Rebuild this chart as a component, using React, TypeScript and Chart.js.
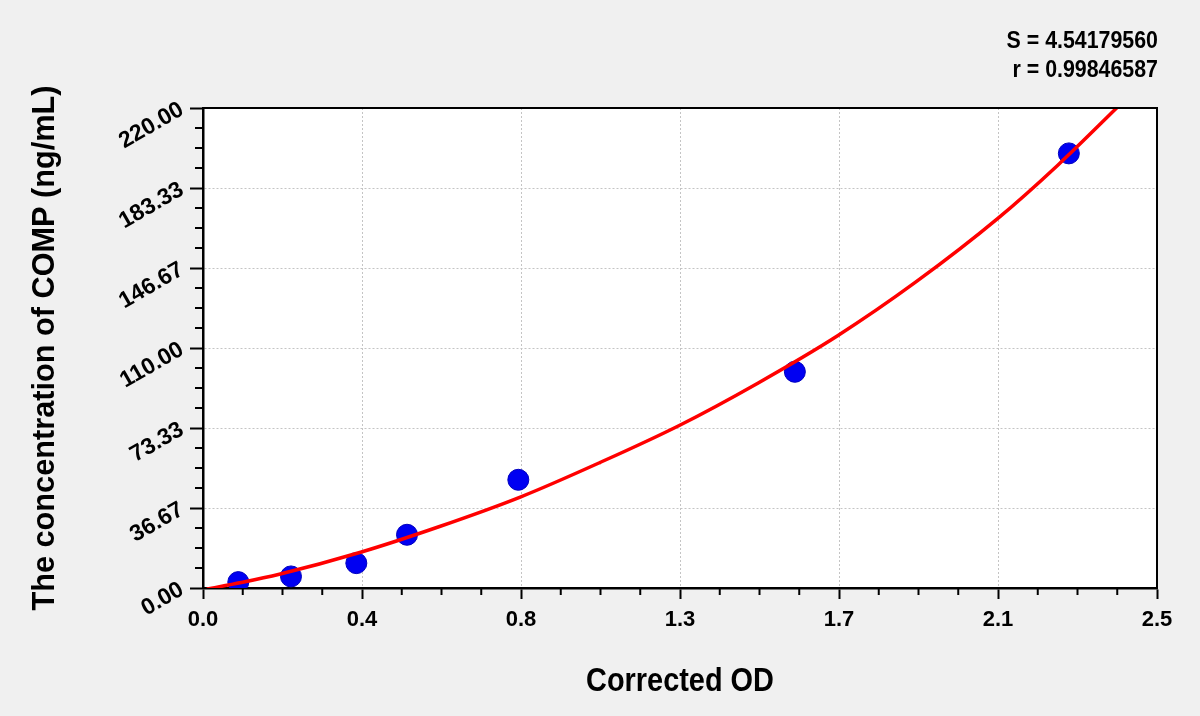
import { useEffect, useRef } from "react";
import { Chart, registerables } from "chart.js";

Chart.register(...registerables);

// fitted curve (OD -> ng/mL)
const curveOD = [0.01, 0.1, 0.2, 0.413, 0.62, 0.833, 1.04, 1.248, 1.455, 1.662, 1.87, 2.083, 2.24, 2.4];
const curveConc = [-0.5, 2.5, 6.3, 16.4, 28.2, 41.8, 57.5, 74.5, 94, 115.5, 140.5, 169.4, 193.8, 221];

// standards
const standardOD = [0.0925, 0.2306, 0.4018, 0.5346, 0.8263, 1.551, 2.269];
const standardConc = [2.7, 5.3, 11.4, 24.4, 49.6, 99.1, 199.2];

const xTickLabels = ["0.0", "0.4", "0.8", "1.3", "1.7", "2.1", "2.5"];
const yTickLabels = ["0.00", "36.67", "73.33", "110.00", "146.67", "183.33", "220.00"];
const xTitle = "Corrected OD";
const yTitle = "The concentration of COMP (ng/mL)";
const fitStats = ["S = 4.54179560", "r = 0.99846587"];

const X_MAX = 2.5;
const Y_MAX = 220;
const SANS = "'Liberation Sans', Arial, sans-serif";

const gridColor = (ctx: any) =>
   ctx.index === 0 || ctx.index === 6 ? "rgba(0,0,0,0)" : "#c4c4c4";

// squeezed text, the original uses a narrow face
function narrowText(
   ctx: CanvasRenderingContext2D,
   text: string,
   x: number,
   y: number,
   squeeze: number,
   align: CanvasTextAlign,
   rotate = 0
) {
   ctx.save();
   ctx.translate(x, y);
   ctx.rotate(rotate);
   ctx.scale(squeeze, 1);
   ctx.textAlign = align;
   ctx.textBaseline = "alphabetic";
   ctx.fillText(text, 0, 0);
   ctx.restore();
}

const framePlugin = {
   id: "frame",
   beforeDraw(chart: Chart) {
      const { ctx, chartArea: a, width, height } = chart;
      ctx.save();
      ctx.fillStyle = "#f0f0f0";
      ctx.fillRect(0, 0, width, height);
      ctx.fillStyle = "#ffffff";
      ctx.fillRect(a.left, a.top, a.right - a.left, a.bottom - a.top);
      ctx.restore();
   },
   afterDraw(chart: Chart) {
      const { ctx, chartArea: a } = chart;
      const xs = chart.scales.x;
      const ys = chart.scales.y;
      ctx.save();
      ctx.strokeStyle = "#000";
      ctx.lineWidth = 2;
      ctx.beginPath();
      // minor ticks
      for (let i = 1; i < 24; i++) {
         if (i % 4 === 0) continue;
         const px = xs.getPixelForValue((i * X_MAX) / 24);
         ctx.moveTo(px, a.bottom);
         ctx.lineTo(px, a.bottom + 7);
         const py = ys.getPixelForValue((i * Y_MAX) / 24);
         ctx.moveTo(a.left - 8, py);
         ctx.lineTo(a.left, py);
      }
      // top and right frame
      ctx.moveTo(a.left, a.top);
      ctx.lineTo(a.right, a.top);
      ctx.lineTo(a.right, a.bottom);
      ctx.stroke();

      ctx.fillStyle = "#000";
      ctx.font = `bold 34px ${SANS}`;
      narrowText(ctx, xTitle, (a.left + a.right) / 2, 691, 0.85, "center");
      ctx.font = `bold 31px ${SANS}`;
      narrowText(ctx, yTitle, 54, (a.top + a.bottom) / 2, 0.99, "center", -Math.PI / 2);
      ctx.font = `bold 24px ${SANS}`;
      narrowText(ctx, fitStats[0], 1158, 48, 0.89, "right");
      narrowText(ctx, fitStats[1], 1158, 77, 0.89, "right");
      ctx.restore();
   },
};

export default function App() {
   const canvasRef = useRef<HTMLCanvasElement | null>(null);
   const chartRef = useRef<Chart | null>(null);

   useEffect(() => {
      if (!canvasRef.current) return;
      chartRef.current?.destroy();

      chartRef.current = new Chart(canvasRef.current, {
         type: "scatter",
         data: {
            datasets: [
               {
                  data: curveOD.map((x, i) => ({ x, y: curveConc[i] })),
                  showLine: true,
                  borderColor: "#ff0000",
                  borderWidth: 3.5,
                  pointRadius: 0,
                  cubicInterpolationMode: "monotone",
               },
               {
                  data: standardOD.map((x, i) => ({ x, y: standardConc[i] })),
                  pointRadius: 10.5,
                  backgroundColor: "#0000f2",
                  borderColor: "#0000c0",
                  borderWidth: 1,
               },
            ],
         },
         options: {
            responsive: true,
            maintainAspectRatio: false,
            animation: false,
            layout: { padding: { top: 108, right: 43, left: 0, bottom: 0 } },
            plugins: {
               legend: { display: false },
               tooltip: { enabled: false },
            },
            scales: {
               x: {
                  type: "linear",
                  min: 0,
                  max: X_MAX,
                  afterFit: (s: any) => {
                     s.height = 128;
                  },
                  ticks: {
                     count: 7,
                     maxRotation: 0,
                     padding: 8,
                     color: "#000",
                     font: { family: SANS, size: 22, weight: "bold" },
                     callback: (_v: any, i: number) => xTickLabels[i],
                  },
                  grid: {
                     color: gridColor,
                     lineWidth: 1,
                     tickColor: "#000",
                     tickLength: 11,
                     tickWidth: 2,
                  },
                  border: { display: true, color: "#000", width: 2.5, dash: [2, 2] },
               },
               y: {
                  type: "linear",
                  min: 0,
                  max: Y_MAX,
                  afterFit: (s: any) => {
                     s.width = 203;
                  },
                  ticks: {
                     count: 7,
                     minRotation: 30,
                     maxRotation: 30,
                     padding: 8,
                     color: "#000",
                     font: { family: SANS, size: 23, weight: "bold" },
                     callback: (_v: any, i: number) => yTickLabels[i],
                  },
                  grid: {
                     color: gridColor,
                     lineWidth: 1,
                     tickColor: "#000",
                     tickLength: 13,
                     tickWidth: 2,
                  },
                  border: { display: true, color: "#000", width: 2.5, dash: [2, 2] },
               },
            },
         },
         plugins: [framePlugin],
      });

      return () => {
         chartRef.current?.destroy();
         chartRef.current = null;
      };
   }, []);

   return (
      <div
         style={{
            position: "fixed",
            left: 0,
            top: 0,
            width: 1200,
            height: 716,
            background: "#f0f0f0",
         }}
      >
         <canvas ref={canvasRef} />
      </div>
   );
}
